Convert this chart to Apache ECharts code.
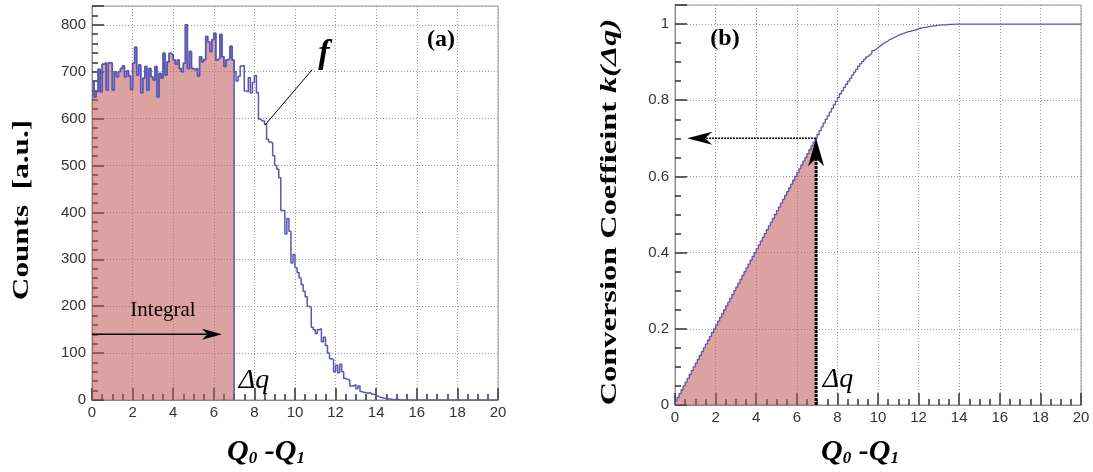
<!DOCTYPE html>
<html><head><meta charset="utf-8">
<script src="https://cdn.jsdelivr.net/npm/echarts@6/dist/echarts.min.js"></script>
<style>html,body{margin:0;padding:0;background:#fff}#c{width:1093px;height:472px}</style>
</head><body><div id="c"></div>
<script>
// ---------- data ----------
const binWidth = 0.1;            // Q0-Q1 bin width
const deltaQ = 7;                // integration limit Δq
// panel (a): counts per bin (bins 0..199 covering 0..20)
const counts = [
 679,646,657,705,657,716,719,661,719,718,
 661,700,689,700,707,712,689,702,691,662,
 718,752,693,714,655,686,711,661,707,689,
 682,711,646,696,686,739,693,721,739,736,
 725,716,725,707,700,718,800,707,743,707,
 704,707,691,732,721,726,775,764,743,768,
 782,725,729,779,732,711,725,729,754,725,
 700,680,690,712,713,659,657,687,655,677,
 692,655,599,595,595,588,556,550,548,521,
 500,492,474,404,404,354,387,360,292,310,
 282,272,260,246,232,220,200,196,155,150,
 142,150,152,124,134,116,100,88,86,60,
 74,58,76,60,46,44,42,30,30,33,
 24,30,18,16,16,14,16,12,12,10,
 8,6,5,4,3,2,2,1,1,1,
 1,0,0,0,0,0,0,0,0,0,
 0,0,0,0,0,0,0,0,0,0,
 0,0,0,0,0,0,0,0,0,0,
 0,0,0,0,0,0,0,0,0,0,
 0,0,0,0,0,0,0,0,0,0
];
// panel (b): conversion coefficient k at Q0-Q1 = 0.0, 0.1, ... 14.0
const kValues = [
 0.00,0.01,0.02,0.03,0.04,0.05,0.06,0.07,0.08,0.09,
 0.10,0.11,0.12,0.13,0.14,0.15,0.16,0.17,0.18,0.19,
 0.20,0.21,0.22,0.23,0.24,0.25,0.26,0.27,0.28,0.29,
 0.30,0.31,0.32,0.33,0.34,0.35,0.36,0.37,0.38,0.39,
 0.40,0.41,0.42,0.43,0.44,0.45,0.46,0.47,0.48,0.49,
 0.50,0.51,0.52,0.53,0.54,0.55,0.56,0.57,0.58,0.59,
 0.60,0.61,0.62,0.63,0.64,0.65,0.66,0.67,0.68,0.69,
 0.70,
 0.710,0.720,0.730,0.740,0.750,0.759,0.769,0.778,0.788,0.797,
 0.807,0.817,0.825,0.834,0.842,0.850,0.858,0.866,0.874,0.881,
 0.889,0.896,0.902,0.908,0.914,0.919,0.924,0.930,0.934,0.938,
 0.942,0.946,0.950,0.953,0.956,0.960,0.962,0.965,0.967,0.970,
 0.972,0.974,0.976,0.978,0.980,0.981,0.983,0.984,0.985,0.988,
 0.989,0.990,0.991,0.992,0.993,0.994,0.995,0.995,0.996,0.997,
 0.997,0.998,0.998,0.998,0.999,0.999,0.999,1.000,1.000,1.000
];
const kEndPoint = [20, 1.0];
// annotations (data coordinates)
const integralArrow = [[0, 140], [6.4, 140]];
const fPointer = [[8.52, 586], [10.84, 704]];
const kAtDeltaQ = 0.70;
const kArrowX = 6.95;
const kArrowTipX = 0.6;

// ---------- styles ----------
const blue = '#5858b4';
const fillCol = 'rgba(192,84,84,0.55)';
const serif = '"Liberation Serif", "DejaVu Serif", serif';
const sans = '"Liberation Sans", Arial, sans-serif';
const tickCol = '#333';

// ---------- derived series data ----------
const histLine = counts.map((c, i) => [i * binWidth, c]);
histLine.push([counts.length * binWidth, counts[counts.length - 1]]);
const nFill = Math.round(deltaQ / binWidth);
const histFill = counts.slice(0, nFill).map((c, i) => [i * binWidth, c]);
histFill.push([deltaQ, counts[nFill - 1]], [deltaQ, 0]);

const kLine = kValues.map((v, i) => [i * binWidth, v]);
kLine.push(kEndPoint);
const kFill = kValues.slice(0, nFill + 1).map((v, i) => [i * binWidth, v]);
kFill.push([deltaQ, 0]);

function tickStyle(minorN) {
  return {
    axisTick: {show: true, inside: true, length: 12, lineStyle: {color: tickCol, width: 1.5}},
    minorTick: {show: true, splitNumber: minorN, length: 6, lineStyle: {color: tickCol, width: 1.5}}
  };
}
function xAxis(g) {
  return Object.assign({
    type: 'value', gridIndex: g, min: 0, max: 20, interval: 2,
    axisLine: {show: true, lineStyle: {color: '#888', width: 1}},
    splitLine: {show: true, lineStyle: {color: '#9a9a9a', type: [1, 2], width: 1}},
    axisLabel: {fontFamily: sans, fontSize: 15, color: '#333', margin: 5}
  }, tickStyle(4));
}
function yAxis(g, max, interval, minorN) {
  return Object.assign({
    type: 'value', gridIndex: g, min: 0, max: max, interval: interval,
    axisLine: {show: true, lineStyle: {color: '#888', width: 1}},
    splitLine: {show: true, lineStyle: {color: '#9a9a9a', type: [1, 2], width: 1}},
    axisLabel: {fontFamily: sans, fontSize: 15, color: '#333', margin: 6, showMaxLabel: false}
  }, tickStyle(minorN));
}

const chart = echarts.init(document.getElementById('c'));
chart.setOption({
  animation: false,
  grid: [
    {left: 92, top: 6, width: 406, height: 394, show: true, borderColor: '#999', borderWidth: 1},
    {left: 675, top: 5, width: 406, height: 400, show: true, borderColor: '#999', borderWidth: 1}
  ],
  xAxis: [xAxis(0), xAxis(1)],
  yAxis: [yAxis(0, 840, 100, 5), yAxis(1, 1.05, 0.2, 4)],
  series: [
    {type: 'line', xAxisIndex: 0, yAxisIndex: 0, data: histFill, step: 'end', showSymbol: false, silent: true,
     lineStyle: {color: blue, width: 1.5}, areaStyle: {color: fillCol, opacity: 1}, z: 2},
    {type: 'line', xAxisIndex: 0, yAxisIndex: 0, data: histLine, step: 'end', showSymbol: false, silent: true,
     lineStyle: {color: blue, width: 1.5}, z: 3},
    {type: 'line', xAxisIndex: 1, yAxisIndex: 1, data: kFill, step: 'start', showSymbol: false, silent: true,
     lineStyle: {width: 0}, areaStyle: {color: fillCol, opacity: 1}, z: 2},
    {type: 'line', xAxisIndex: 1, yAxisIndex: 1, data: kLine, step: 'start', showSymbol: false, silent: true,
     lineStyle: {color: blue, width: 1.3}, z: 3}
  ]
});

// ---------- annotations through the axes' scales ----------
function px(g, p) { return chart.convertToPixel({gridIndex: g}, p); }
function seg(a, b, stroke, lw, dash) {
  const s = {stroke: stroke, lineWidth: lw};
  if (dash) s.lineDash = dash;
  return {type: 'line', z: 50, shape: {x1: a[0], y1: a[1], x2: b[0], y2: b[1]}, style: s};
}
function arrow(from, tip, L, W, lw, dash) {
  const dx = tip[0] - from[0], dy = tip[1] - from[1];
  const len = Math.hypot(dx, dy), ux = dx / len, uy = dy / len, nx = -uy, ny = ux;
  const bx = tip[0] - L * ux, by = tip[1] - L * uy;
  const notch = [tip[0] - 0.72 * L * ux, tip[1] - 0.72 * L * uy];
  return [
    seg(from, notch, '#000', lw, dash),
    {type: 'polygon', z: 51, shape: {points: [tip, [bx + nx * W / 2, by + ny * W / 2], notch, [bx - nx * W / 2, by - ny * W / 2]]},
     style: {fill: '#000'}}
  ];
}
function txt(x, y, text, font, extra) {
  return Object.assign({type: 'text', x: x, y: y, z: 60,
    style: {text: text, font: font, fill: '#000', align: 'center', verticalAlign: 'middle'}}, extra || {});
}

const g = [];
// panel (a)
g.push(...arrow(px(0, integralArrow[0]), px(0, integralArrow[1]), 20, 11, 1.5));
g.push(seg(px(0, fPointer[0]), px(0, fPointer[1]), '#000', 1));
g.push(txt(163, 310, 'Integral', '21px ' + serif));
g.push(txt(254, 381, 'Δq', 'italic 28px ' + serif));
g.push(txt(324, 54, 'f', 'italic bold 34px ' + serif));
g.push(txt(441, 40, '(a)', 'bold 24px ' + serif));
// panel (b)
const vb = px(1, [kArrowX, 0]), vt = px(1, [kArrowX, kAtDeltaQ]);
g.push(...arrow(vb, vt, 28, 16, 3, [3, 1]));
const hl = px(1, [kArrowTipX, kAtDeltaQ]);
g.push(...arrow(vt, hl, 25, 13, 1.5, [2, 1]));
g.push(txt(838, 380, 'Δq', 'italic 28px ' + serif));
g.push(txt(725, 39, '(b)', 'bold 24px ' + serif));
// axis titles (text stretched along its length as in the reference)
g.push(txt(22, 210, 'Counts  [a.u.]', 'bold 24px ' + serif, {rotation: Math.PI / 2, scaleX: 1.3}));
g.push({type: 'text', x: 610, y: 212, z: 60, rotation: Math.PI / 2, scaleX: 1.35,
  style: {text: '{a|Conversion Coeffieint}  {b|k(Δq)}', align: 'center', verticalAlign: 'middle', fill: '#000',
    rich: {a: {font: 'bold 24px ' + serif, fill: '#000'}, b: {font: 'italic bold 24px ' + serif, fill: '#000'}}}});
function qTitle(x) {
  return {type: 'text', x: x, y: 451, z: 60,
    style: {text: '{q|Q}{s|0}{q| -Q}{s|1}', align: 'center', verticalAlign: 'middle', fill: '#000',
      rich: {q: {font: 'italic bold 30px ' + serif, fill: '#000', verticalAlign: 'bottom', lineHeight: 32},
             s: {font: 'italic bold 17px ' + serif, fill: '#000', verticalAlign: 'bottom', lineHeight: 26}}}};
}
g.push(qTitle(266), qTitle(860));
chart.setOption({graphic: g});
</script>
</body></html>
